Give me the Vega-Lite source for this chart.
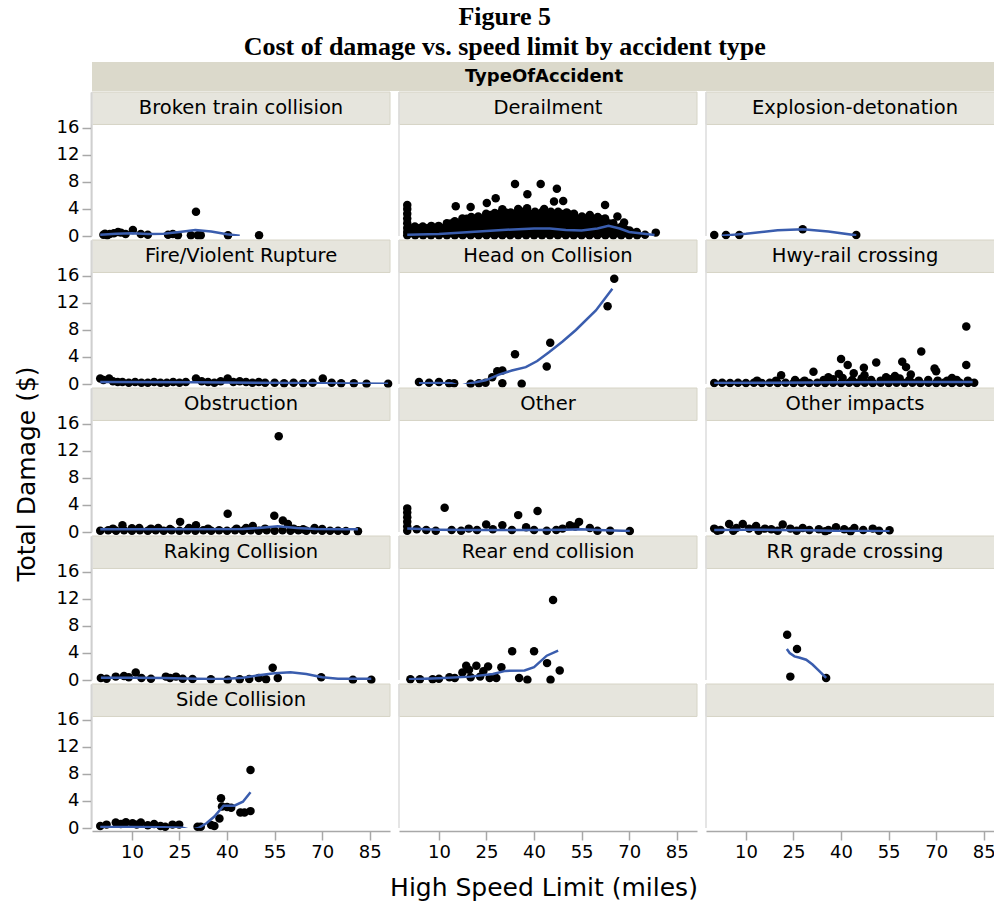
{
  "$schema": "https://vega.github.io/schema/vega-lite/v6.json",
  "padding": {"left": 5, "top": 4, "right": 0, "bottom": 0},
  "background": "white",
  "title": {
    "text": ["Figure 5", "Cost of damage vs. speed limit by accident type"],
    "font": "Liberation Serif",
    "fontSize": 26,
    "fontWeight": "bold",
    "lineHeight": 30,
    "anchor": "middle",
    "offset": 2,
    "color": "#000000"
  },
  "config": {
    "font": "DejaVu Sans",
    "view": {"stroke": null},
    "header": {"labels": false, "title": null, "labelFontSize": 0.1, "labelPadding": 0, "titlePadding": 0, "labelExpr": "''", "labelLineHeight": 0.1},
    "axis": {
      "labelFont": "DejaVu Sans",
      "labelFontSize": 18,
      "labelColor": "#000000",
      "labelOverlap": false,
      "tickColor": "#a8a8a8",
      "domainColor": "#a8a8a8",
      "tickWidth": 1.5,
      "domainWidth": 1.5,
      "tickSize": 9,
      "labelPadding": 3,
      "grid": false
    }
  },
  "datasets": {
    "acc": [
      {"type": "Broken train collision", "series": "point", "speed": 1, "damage": 0.2},
      {"type": "Broken train collision", "series": "point", "speed": 1.5, "damage": 0.35},
      {"type": "Broken train collision", "series": "point", "speed": 2.2, "damage": 0.1},
      {"type": "Broken train collision", "series": "point", "speed": 3, "damage": 0.3},
      {"type": "Broken train collision", "series": "point", "speed": 4.3, "damage": 0.4},
      {"type": "Broken train collision", "series": "point", "speed": 5.6, "damage": 0.6},
      {"type": "Broken train collision", "series": "point", "speed": 6.5, "damage": 0.5},
      {"type": "Broken train collision", "series": "point", "speed": 8, "damage": 0.3},
      {"type": "Broken train collision", "series": "point", "speed": 10.3, "damage": 0.9},
      {"type": "Broken train collision", "series": "point", "speed": 12.8, "damage": 0.3},
      {"type": "Broken train collision", "series": "point", "speed": 15, "damage": 0.2},
      {"type": "Broken train collision", "series": "point", "speed": 21.4, "damage": 0.2},
      {"type": "Broken train collision", "series": "point", "speed": 22.9, "damage": 0.3},
      {"type": "Broken train collision", "series": "point", "speed": 24.5, "damage": 0.1},
      {"type": "Broken train collision", "series": "point", "speed": 28.6, "damage": 0.1},
      {"type": "Broken train collision", "series": "point", "speed": 30.2, "damage": 3.6},
      {"type": "Broken train collision", "series": "point", "speed": 30.8, "damage": 0.1},
      {"type": "Broken train collision", "series": "point", "speed": 31.7, "damage": 0.1},
      {"type": "Broken train collision", "series": "point", "speed": 40.3, "damage": 0.1},
      {"type": "Broken train collision", "series": "point", "speed": 50.1, "damage": 0.1},
      {"type": "Broken train collision", "series": "smooth", "speed": 0, "damage": 0.2},
      {"type": "Broken train collision", "series": "smooth", "speed": 5, "damage": 0.35},
      {"type": "Broken train collision", "series": "smooth", "speed": 10, "damage": 0.4},
      {"type": "Broken train collision", "series": "smooth", "speed": 15, "damage": 0.3},
      {"type": "Broken train collision", "series": "smooth", "speed": 20, "damage": 0.35},
      {"type": "Broken train collision", "series": "smooth", "speed": 25, "damage": 0.6},
      {"type": "Broken train collision", "series": "smooth", "speed": 30, "damage": 0.9},
      {"type": "Broken train collision", "series": "smooth", "speed": 35, "damage": 0.65},
      {"type": "Broken train collision", "series": "smooth", "speed": 40, "damage": 0.25},
      {"type": "Broken train collision", "series": "smooth", "speed": 44, "damage": 0.05},

      {"type": "Derailment", "series": "point", "speed": 34, "damage": 7.7},
      {"type": "Derailment", "series": "point", "speed": 42.1, "damage": 7.7},
      {"type": "Derailment", "series": "point", "speed": 47.2, "damage": 7.0},
      {"type": "Derailment", "series": "point", "speed": 37.9, "damage": 6.2},
      {"type": "Derailment", "series": "point", "speed": 27.9, "damage": 5.6},
      {"type": "Derailment", "series": "point", "speed": 15.3, "damage": 4.4},
      {"type": "Derailment", "series": "point", "speed": 20, "damage": 4.3},
      {"type": "Derailment", "series": "point", "speed": 25.1, "damage": 4.9},
      {"type": "Derailment", "series": "point", "speed": 30, "damage": 3.95},
      {"type": "Derailment", "series": "point", "speed": 35, "damage": 4.0},
      {"type": "Derailment", "series": "point", "speed": 46.3, "damage": 5.1},
      {"type": "Derailment", "series": "point", "speed": 49.2, "damage": 5.2},
      {"type": "Derailment", "series": "point", "speed": 62.4, "damage": 4.6},
      {"type": "Derailment", "series": "point", "speed": 66.3, "damage": 2.9},
      {"type": "Derailment", "series": "point", "speed": 68.4, "damage": 2.0},
      {"type": "Derailment", "series": "point", "speed": 78.4, "damage": 0.5},
      {"type": "Derailment", "series": "point", "speed": 0, "damage": 4.6},
      {"type": "Derailment", "series": "point", "speed": 0, "damage": 4.0},
      {"type": "Derailment", "series": "point", "speed": 0, "damage": 3.3},
      {"type": "Derailment", "series": "point", "speed": 0, "damage": 2.6},
      {"type": "Derailment", "series": "point", "speed": 0, "damage": 1.9},
      {"type": "Derailment", "series": "point", "speed": 0, "damage": 1.2},
      {"type": "Derailment", "series": "point", "speed": 0, "damage": 0.6},
      {"type": "Derailment", "series": "point", "speed": 0, "damage": 0.1},
      {"type": "Derailment", "series": "point", "speed": 1.3, "damage": 0.5},
      {"type": "Derailment", "series": "point", "speed": 1.4, "damage": 1.1},
      {"type": "Derailment", "series": "point", "speed": 2.5, "damage": 0.1},
      {"type": "Derailment", "series": "point", "speed": 2.6, "damage": 0.8},
      {"type": "Derailment", "series": "point", "speed": 2.4, "damage": 1.4},
      {"type": "Derailment", "series": "point", "speed": 5, "damage": 0.1},
      {"type": "Derailment", "series": "point", "speed": 5.1, "damage": 0.8},
      {"type": "Derailment", "series": "point", "speed": 4.9, "damage": 1.4},
      {"type": "Derailment", "series": "point", "speed": 7.5, "damage": 0.1},
      {"type": "Derailment", "series": "point", "speed": 7.4, "damage": 0.8},
      {"type": "Derailment", "series": "point", "speed": 7.6, "damage": 1.5},
      {"type": "Derailment", "series": "point", "speed": 10, "damage": 0.1},
      {"type": "Derailment", "series": "point", "speed": 10.1, "damage": 0.8},
      {"type": "Derailment", "series": "point", "speed": 9.9, "damage": 1.5},
      {"type": "Derailment", "series": "point", "speed": 12.5, "damage": 0.1},
      {"type": "Derailment", "series": "point", "speed": 12.4, "damage": 0.8},
      {"type": "Derailment", "series": "point", "speed": 12.6, "damage": 1.5},
      {"type": "Derailment", "series": "point", "speed": 12.5, "damage": 1.9},
      {"type": "Derailment", "series": "point", "speed": 15, "damage": 0.1},
      {"type": "Derailment", "series": "point", "speed": 15.1, "damage": 0.8},
      {"type": "Derailment", "series": "point", "speed": 14.9, "damage": 1.5},
      {"type": "Derailment", "series": "point", "speed": 15, "damage": 2.2},
      {"type": "Derailment", "series": "point", "speed": 17.5, "damage": 0.1},
      {"type": "Derailment", "series": "point", "speed": 17.4, "damage": 0.8},
      {"type": "Derailment", "series": "point", "speed": 17.6, "damage": 1.5},
      {"type": "Derailment", "series": "point", "speed": 17.5, "damage": 2.2},
      {"type": "Derailment", "series": "point", "speed": 17.4, "damage": 2.6},
      {"type": "Derailment", "series": "point", "speed": 20, "damage": 0.1},
      {"type": "Derailment", "series": "point", "speed": 20.1, "damage": 0.8},
      {"type": "Derailment", "series": "point", "speed": 19.9, "damage": 1.5},
      {"type": "Derailment", "series": "point", "speed": 20, "damage": 2.2},
      {"type": "Derailment", "series": "point", "speed": 20.2, "damage": 2.8},
      {"type": "Derailment", "series": "point", "speed": 22.5, "damage": 0.1},
      {"type": "Derailment", "series": "point", "speed": 22.4, "damage": 0.8},
      {"type": "Derailment", "series": "point", "speed": 22.6, "damage": 1.5},
      {"type": "Derailment", "series": "point", "speed": 22.5, "damage": 2.2},
      {"type": "Derailment", "series": "point", "speed": 22.4, "damage": 2.9},
      {"type": "Derailment", "series": "point", "speed": 25, "damage": 0.1},
      {"type": "Derailment", "series": "point", "speed": 25.1, "damage": 0.8},
      {"type": "Derailment", "series": "point", "speed": 24.9, "damage": 1.5},
      {"type": "Derailment", "series": "point", "speed": 25, "damage": 2.2},
      {"type": "Derailment", "series": "point", "speed": 25.1, "damage": 2.9},
      {"type": "Derailment", "series": "point", "speed": 24.9, "damage": 3.3},
      {"type": "Derailment", "series": "point", "speed": 27.5, "damage": 0.1},
      {"type": "Derailment", "series": "point", "speed": 27.4, "damage": 0.8},
      {"type": "Derailment", "series": "point", "speed": 27.6, "damage": 1.5},
      {"type": "Derailment", "series": "point", "speed": 27.5, "damage": 2.2},
      {"type": "Derailment", "series": "point", "speed": 27.4, "damage": 2.9},
      {"type": "Derailment", "series": "point", "speed": 27.6, "damage": 3.4},
      {"type": "Derailment", "series": "point", "speed": 30, "damage": 0.1},
      {"type": "Derailment", "series": "point", "speed": 30.1, "damage": 0.8},
      {"type": "Derailment", "series": "point", "speed": 29.9, "damage": 1.5},
      {"type": "Derailment", "series": "point", "speed": 30, "damage": 2.2},
      {"type": "Derailment", "series": "point", "speed": 30.1, "damage": 2.9},
      {"type": "Derailment", "series": "point", "speed": 31, "damage": 3.5},
      {"type": "Derailment", "series": "point", "speed": 32.5, "damage": 0.1},
      {"type": "Derailment", "series": "point", "speed": 32.4, "damage": 0.8},
      {"type": "Derailment", "series": "point", "speed": 32.6, "damage": 1.5},
      {"type": "Derailment", "series": "point", "speed": 32.5, "damage": 2.2},
      {"type": "Derailment", "series": "point", "speed": 32.4, "damage": 2.9},
      {"type": "Derailment", "series": "point", "speed": 32.6, "damage": 3.5},
      {"type": "Derailment", "series": "point", "speed": 35, "damage": 0.1},
      {"type": "Derailment", "series": "point", "speed": 35.1, "damage": 0.8},
      {"type": "Derailment", "series": "point", "speed": 34.9, "damage": 1.5},
      {"type": "Derailment", "series": "point", "speed": 35, "damage": 2.2},
      {"type": "Derailment", "series": "point", "speed": 35.1, "damage": 2.9},
      {"type": "Derailment", "series": "point", "speed": 36.2, "damage": 3.6},
      {"type": "Derailment", "series": "point", "speed": 37.5, "damage": 0.1},
      {"type": "Derailment", "series": "point", "speed": 37.4, "damage": 0.8},
      {"type": "Derailment", "series": "point", "speed": 37.6, "damage": 1.5},
      {"type": "Derailment", "series": "point", "speed": 37.5, "damage": 2.2},
      {"type": "Derailment", "series": "point", "speed": 37.4, "damage": 2.9},
      {"type": "Derailment", "series": "point", "speed": 37.6, "damage": 3.6},
      {"type": "Derailment", "series": "point", "speed": 37.8, "damage": 4.1},
      {"type": "Derailment", "series": "point", "speed": 40, "damage": 0.1},
      {"type": "Derailment", "series": "point", "speed": 40.1, "damage": 0.8},
      {"type": "Derailment", "series": "point", "speed": 39.9, "damage": 1.5},
      {"type": "Derailment", "series": "point", "speed": 40, "damage": 2.2},
      {"type": "Derailment", "series": "point", "speed": 40.1, "damage": 2.9},
      {"type": "Derailment", "series": "point", "speed": 40.3, "damage": 3.6},
      {"type": "Derailment", "series": "point", "speed": 42.5, "damage": 0.1},
      {"type": "Derailment", "series": "point", "speed": 42.4, "damage": 0.8},
      {"type": "Derailment", "series": "point", "speed": 42.6, "damage": 1.5},
      {"type": "Derailment", "series": "point", "speed": 42.5, "damage": 2.2},
      {"type": "Derailment", "series": "point", "speed": 42.4, "damage": 2.9},
      {"type": "Derailment", "series": "point", "speed": 42.6, "damage": 3.6},
      {"type": "Derailment", "series": "point", "speed": 43.2, "damage": 4.0},
      {"type": "Derailment", "series": "point", "speed": 45, "damage": 0.1},
      {"type": "Derailment", "series": "point", "speed": 45.1, "damage": 0.8},
      {"type": "Derailment", "series": "point", "speed": 44.9, "damage": 1.5},
      {"type": "Derailment", "series": "point", "speed": 45, "damage": 2.2},
      {"type": "Derailment", "series": "point", "speed": 45.1, "damage": 2.9},
      {"type": "Derailment", "series": "point", "speed": 45.3, "damage": 3.6},
      {"type": "Derailment", "series": "point", "speed": 47.5, "damage": 0.1},
      {"type": "Derailment", "series": "point", "speed": 47.4, "damage": 0.8},
      {"type": "Derailment", "series": "point", "speed": 47.6, "damage": 1.5},
      {"type": "Derailment", "series": "point", "speed": 47.5, "damage": 2.2},
      {"type": "Derailment", "series": "point", "speed": 47.4, "damage": 2.9},
      {"type": "Derailment", "series": "point", "speed": 47.6, "damage": 3.6},
      {"type": "Derailment", "series": "point", "speed": 50, "damage": 0.1},
      {"type": "Derailment", "series": "point", "speed": 50.1, "damage": 0.8},
      {"type": "Derailment", "series": "point", "speed": 49.9, "damage": 1.5},
      {"type": "Derailment", "series": "point", "speed": 50, "damage": 2.2},
      {"type": "Derailment", "series": "point", "speed": 50.1, "damage": 2.9},
      {"type": "Derailment", "series": "point", "speed": 50.3, "damage": 3.5},
      {"type": "Derailment", "series": "point", "speed": 52.5, "damage": 0.1},
      {"type": "Derailment", "series": "point", "speed": 52.4, "damage": 0.8},
      {"type": "Derailment", "series": "point", "speed": 52.6, "damage": 1.5},
      {"type": "Derailment", "series": "point", "speed": 52.5, "damage": 2.2},
      {"type": "Derailment", "series": "point", "speed": 52.4, "damage": 2.9},
      {"type": "Derailment", "series": "point", "speed": 52.6, "damage": 3.3},
      {"type": "Derailment", "series": "point", "speed": 55, "damage": 0.1},
      {"type": "Derailment", "series": "point", "speed": 55.1, "damage": 0.8},
      {"type": "Derailment", "series": "point", "speed": 54.9, "damage": 1.5},
      {"type": "Derailment", "series": "point", "speed": 55, "damage": 2.2},
      {"type": "Derailment", "series": "point", "speed": 55.1, "damage": 2.9},
      {"type": "Derailment", "series": "point", "speed": 57.5, "damage": 0.1},
      {"type": "Derailment", "series": "point", "speed": 57.4, "damage": 0.8},
      {"type": "Derailment", "series": "point", "speed": 57.6, "damage": 1.5},
      {"type": "Derailment", "series": "point", "speed": 57.5, "damage": 2.2},
      {"type": "Derailment", "series": "point", "speed": 57.4, "damage": 2.9},
      {"type": "Derailment", "series": "point", "speed": 57.6, "damage": 3.1},
      {"type": "Derailment", "series": "point", "speed": 60, "damage": 0.1},
      {"type": "Derailment", "series": "point", "speed": 60.1, "damage": 0.8},
      {"type": "Derailment", "series": "point", "speed": 59.9, "damage": 1.5},
      {"type": "Derailment", "series": "point", "speed": 60, "damage": 2.2},
      {"type": "Derailment", "series": "point", "speed": 60.1, "damage": 2.8},
      {"type": "Derailment", "series": "point", "speed": 62.5, "damage": 0.1},
      {"type": "Derailment", "series": "point", "speed": 62.4, "damage": 0.8},
      {"type": "Derailment", "series": "point", "speed": 62.6, "damage": 1.5},
      {"type": "Derailment", "series": "point", "speed": 62.5, "damage": 2.2},
      {"type": "Derailment", "series": "point", "speed": 62.4, "damage": 2.6},
      {"type": "Derailment", "series": "point", "speed": 65, "damage": 0.1},
      {"type": "Derailment", "series": "point", "speed": 65.1, "damage": 0.8},
      {"type": "Derailment", "series": "point", "speed": 64.9, "damage": 1.5},
      {"type": "Derailment", "series": "point", "speed": 65, "damage": 1.9},
      {"type": "Derailment", "series": "point", "speed": 67.5, "damage": 0.1},
      {"type": "Derailment", "series": "point", "speed": 67.4, "damage": 0.8},
      {"type": "Derailment", "series": "point", "speed": 67.6, "damage": 1.4},
      {"type": "Derailment", "series": "point", "speed": 70, "damage": 0.1},
      {"type": "Derailment", "series": "point", "speed": 70.1, "damage": 0.8},
      {"type": "Derailment", "series": "point", "speed": 72.5, "damage": 0.1},
      {"type": "Derailment", "series": "point", "speed": 72.4, "damage": 0.6},
      {"type": "Derailment", "series": "point", "speed": 75, "damage": 0.2},
      {"type": "Derailment", "series": "point", "speed": 1.25, "damage": 0.45},
      {"type": "Derailment", "series": "point", "speed": 3.75, "damage": 0.45},
      {"type": "Derailment", "series": "point", "speed": 3.75, "damage": 1.15},
      {"type": "Derailment", "series": "point", "speed": 6.25, "damage": 0.45},
      {"type": "Derailment", "series": "point", "speed": 6.25, "damage": 1.15},
      {"type": "Derailment", "series": "point", "speed": 8.75, "damage": 0.45},
      {"type": "Derailment", "series": "point", "speed": 8.75, "damage": 1.15},
      {"type": "Derailment", "series": "point", "speed": 11.25, "damage": 0.45},
      {"type": "Derailment", "series": "point", "speed": 11.25, "damage": 1.15},
      {"type": "Derailment", "series": "point", "speed": 13.75, "damage": 0.45},
      {"type": "Derailment", "series": "point", "speed": 13.75, "damage": 1.15},
      {"type": "Derailment", "series": "point", "speed": 13.75, "damage": 1.85},
      {"type": "Derailment", "series": "point", "speed": 16.25, "damage": 0.45},
      {"type": "Derailment", "series": "point", "speed": 16.25, "damage": 1.15},
      {"type": "Derailment", "series": "point", "speed": 16.25, "damage": 1.85},
      {"type": "Derailment", "series": "point", "speed": 18.75, "damage": 0.45},
      {"type": "Derailment", "series": "point", "speed": 18.75, "damage": 1.15},
      {"type": "Derailment", "series": "point", "speed": 18.75, "damage": 1.85},
      {"type": "Derailment", "series": "point", "speed": 18.75, "damage": 2.55},
      {"type": "Derailment", "series": "point", "speed": 21.25, "damage": 0.45},
      {"type": "Derailment", "series": "point", "speed": 21.25, "damage": 1.15},
      {"type": "Derailment", "series": "point", "speed": 21.25, "damage": 1.85},
      {"type": "Derailment", "series": "point", "speed": 21.25, "damage": 2.55},
      {"type": "Derailment", "series": "point", "speed": 23.75, "damage": 0.45},
      {"type": "Derailment", "series": "point", "speed": 23.75, "damage": 1.15},
      {"type": "Derailment", "series": "point", "speed": 23.75, "damage": 1.85},
      {"type": "Derailment", "series": "point", "speed": 23.75, "damage": 2.55},
      {"type": "Derailment", "series": "point", "speed": 26.25, "damage": 0.45},
      {"type": "Derailment", "series": "point", "speed": 26.25, "damage": 1.15},
      {"type": "Derailment", "series": "point", "speed": 26.25, "damage": 1.85},
      {"type": "Derailment", "series": "point", "speed": 26.25, "damage": 2.55},
      {"type": "Derailment", "series": "point", "speed": 26.25, "damage": 3.1},
      {"type": "Derailment", "series": "point", "speed": 28.75, "damage": 0.45},
      {"type": "Derailment", "series": "point", "speed": 28.75, "damage": 1.15},
      {"type": "Derailment", "series": "point", "speed": 28.75, "damage": 1.85},
      {"type": "Derailment", "series": "point", "speed": 28.75, "damage": 2.55},
      {"type": "Derailment", "series": "point", "speed": 28.75, "damage": 3.25},
      {"type": "Derailment", "series": "point", "speed": 31.25, "damage": 0.45},
      {"type": "Derailment", "series": "point", "speed": 31.25, "damage": 1.15},
      {"type": "Derailment", "series": "point", "speed": 31.25, "damage": 1.85},
      {"type": "Derailment", "series": "point", "speed": 31.25, "damage": 2.55},
      {"type": "Derailment", "series": "point", "speed": 31.25, "damage": 3.25},
      {"type": "Derailment", "series": "point", "speed": 33.75, "damage": 0.45},
      {"type": "Derailment", "series": "point", "speed": 33.75, "damage": 1.15},
      {"type": "Derailment", "series": "point", "speed": 33.75, "damage": 1.85},
      {"type": "Derailment", "series": "point", "speed": 33.75, "damage": 2.55},
      {"type": "Derailment", "series": "point", "speed": 33.75, "damage": 3.25},
      {"type": "Derailment", "series": "point", "speed": 36.25, "damage": 0.45},
      {"type": "Derailment", "series": "point", "speed": 36.25, "damage": 1.15},
      {"type": "Derailment", "series": "point", "speed": 36.25, "damage": 1.85},
      {"type": "Derailment", "series": "point", "speed": 36.25, "damage": 2.55},
      {"type": "Derailment", "series": "point", "speed": 36.25, "damage": 3.25},
      {"type": "Derailment", "series": "point", "speed": 38.75, "damage": 0.45},
      {"type": "Derailment", "series": "point", "speed": 38.75, "damage": 1.15},
      {"type": "Derailment", "series": "point", "speed": 38.75, "damage": 1.85},
      {"type": "Derailment", "series": "point", "speed": 38.75, "damage": 2.55},
      {"type": "Derailment", "series": "point", "speed": 38.75, "damage": 3.25},
      {"type": "Derailment", "series": "point", "speed": 41.25, "damage": 0.45},
      {"type": "Derailment", "series": "point", "speed": 41.25, "damage": 1.15},
      {"type": "Derailment", "series": "point", "speed": 41.25, "damage": 1.85},
      {"type": "Derailment", "series": "point", "speed": 41.25, "damage": 2.55},
      {"type": "Derailment", "series": "point", "speed": 41.25, "damage": 3.25},
      {"type": "Derailment", "series": "point", "speed": 43.75, "damage": 0.45},
      {"type": "Derailment", "series": "point", "speed": 43.75, "damage": 1.15},
      {"type": "Derailment", "series": "point", "speed": 43.75, "damage": 1.85},
      {"type": "Derailment", "series": "point", "speed": 43.75, "damage": 2.55},
      {"type": "Derailment", "series": "point", "speed": 43.75, "damage": 3.25},
      {"type": "Derailment", "series": "point", "speed": 46.25, "damage": 0.45},
      {"type": "Derailment", "series": "point", "speed": 46.25, "damage": 1.15},
      {"type": "Derailment", "series": "point", "speed": 46.25, "damage": 1.85},
      {"type": "Derailment", "series": "point", "speed": 46.25, "damage": 2.55},
      {"type": "Derailment", "series": "point", "speed": 46.25, "damage": 3.25},
      {"type": "Derailment", "series": "point", "speed": 48.75, "damage": 0.45},
      {"type": "Derailment", "series": "point", "speed": 48.75, "damage": 1.15},
      {"type": "Derailment", "series": "point", "speed": 48.75, "damage": 1.85},
      {"type": "Derailment", "series": "point", "speed": 48.75, "damage": 2.55},
      {"type": "Derailment", "series": "point", "speed": 48.75, "damage": 3.25},
      {"type": "Derailment", "series": "point", "speed": 51.25, "damage": 0.45},
      {"type": "Derailment", "series": "point", "speed": 51.25, "damage": 1.15},
      {"type": "Derailment", "series": "point", "speed": 51.25, "damage": 1.85},
      {"type": "Derailment", "series": "point", "speed": 51.25, "damage": 2.55},
      {"type": "Derailment", "series": "point", "speed": 51.25, "damage": 3.2},
      {"type": "Derailment", "series": "point", "speed": 53.75, "damage": 0.45},
      {"type": "Derailment", "series": "point", "speed": 53.75, "damage": 1.15},
      {"type": "Derailment", "series": "point", "speed": 53.75, "damage": 1.85},
      {"type": "Derailment", "series": "point", "speed": 53.75, "damage": 2.55},
      {"type": "Derailment", "series": "point", "speed": 56.25, "damage": 0.45},
      {"type": "Derailment", "series": "point", "speed": 56.25, "damage": 1.15},
      {"type": "Derailment", "series": "point", "speed": 56.25, "damage": 1.85},
      {"type": "Derailment", "series": "point", "speed": 56.25, "damage": 2.55},
      {"type": "Derailment", "series": "point", "speed": 58.75, "damage": 0.45},
      {"type": "Derailment", "series": "point", "speed": 58.75, "damage": 1.15},
      {"type": "Derailment", "series": "point", "speed": 58.75, "damage": 1.85},
      {"type": "Derailment", "series": "point", "speed": 58.75, "damage": 2.55},
      {"type": "Derailment", "series": "point", "speed": 61.25, "damage": 0.45},
      {"type": "Derailment", "series": "point", "speed": 61.25, "damage": 1.15},
      {"type": "Derailment", "series": "point", "speed": 61.25, "damage": 1.85},
      {"type": "Derailment", "series": "point", "speed": 61.25, "damage": 2.45},
      {"type": "Derailment", "series": "point", "speed": 63.75, "damage": 0.45},
      {"type": "Derailment", "series": "point", "speed": 63.75, "damage": 1.15},
      {"type": "Derailment", "series": "point", "speed": 63.75, "damage": 1.85},
      {"type": "Derailment", "series": "point", "speed": 66.25, "damage": 0.45},
      {"type": "Derailment", "series": "point", "speed": 66.25, "damage": 1.15},
      {"type": "Derailment", "series": "point", "speed": 68.75, "damage": 0.45},
      {"type": "Derailment", "series": "point", "speed": 68.75, "damage": 1.0},
      {"type": "Derailment", "series": "point", "speed": 71.25, "damage": 0.45},
      {"type": "Derailment", "series": "smooth", "speed": 0, "damage": 0.2},
      {"type": "Derailment", "series": "smooth", "speed": 10, "damage": 0.3},
      {"type": "Derailment", "series": "smooth", "speed": 20, "damage": 0.6},
      {"type": "Derailment", "series": "smooth", "speed": 30, "damage": 0.9},
      {"type": "Derailment", "series": "smooth", "speed": 40, "damage": 1.1},
      {"type": "Derailment", "series": "smooth", "speed": 45, "damage": 1.1},
      {"type": "Derailment", "series": "smooth", "speed": 50, "damage": 0.9},
      {"type": "Derailment", "series": "smooth", "speed": 55, "damage": 0.8},
      {"type": "Derailment", "series": "smooth", "speed": 60, "damage": 1.1},
      {"type": "Derailment", "series": "smooth", "speed": 63.5, "damage": 1.5},
      {"type": "Derailment", "series": "smooth", "speed": 67, "damage": 1.1},
      {"type": "Derailment", "series": "smooth", "speed": 70, "damage": 0.6},
      {"type": "Derailment", "series": "smooth", "speed": 78, "damage": 0.15},

      {"type": "Explosion-detonation", "series": "point", "speed": 0, "damage": 0.15},
      {"type": "Explosion-detonation", "series": "point", "speed": 3.7, "damage": 0.15},
      {"type": "Explosion-detonation", "series": "point", "speed": 7.9, "damage": 0.15},
      {"type": "Explosion-detonation", "series": "point", "speed": 27.9, "damage": 1.0},
      {"type": "Explosion-detonation", "series": "point", "speed": 44.8, "damage": 0.15},
      {"type": "Explosion-detonation", "series": "smooth", "speed": 2.4, "damage": 0.05},
      {"type": "Explosion-detonation", "series": "smooth", "speed": 10, "damage": 0.35},
      {"type": "Explosion-detonation", "series": "smooth", "speed": 20, "damage": 0.85},
      {"type": "Explosion-detonation", "series": "smooth", "speed": 28, "damage": 1.0},
      {"type": "Explosion-detonation", "series": "smooth", "speed": 36, "damage": 0.65},
      {"type": "Explosion-detonation", "series": "smooth", "speed": 44.8, "damage": 0.1},

      {"type": "Fire/Violent Rupture", "series": "point", "speed": 0, "damage": 0.8},
      {"type": "Fire/Violent Rupture", "series": "point", "speed": 1, "damage": 0.6},
      {"type": "Fire/Violent Rupture", "series": "point", "speed": 2.8, "damage": 0.8},
      {"type": "Fire/Violent Rupture", "series": "point", "speed": 4, "damage": 0.4},
      {"type": "Fire/Violent Rupture", "series": "point", "speed": 5.5, "damage": 0.3},
      {"type": "Fire/Violent Rupture", "series": "point", "speed": 7, "damage": 0.3},
      {"type": "Fire/Violent Rupture", "series": "point", "speed": 9, "damage": 0.2},
      {"type": "Fire/Violent Rupture", "series": "point", "speed": 11, "damage": 0.3},
      {"type": "Fire/Violent Rupture", "series": "point", "speed": 13, "damage": 0.2},
      {"type": "Fire/Violent Rupture", "series": "point", "speed": 15, "damage": 0.2},
      {"type": "Fire/Violent Rupture", "series": "point", "speed": 17, "damage": 0.3},
      {"type": "Fire/Violent Rupture", "series": "point", "speed": 19, "damage": 0.2},
      {"type": "Fire/Violent Rupture", "series": "point", "speed": 21, "damage": 0.2},
      {"type": "Fire/Violent Rupture", "series": "point", "speed": 23, "damage": 0.3},
      {"type": "Fire/Violent Rupture", "series": "point", "speed": 25, "damage": 0.2},
      {"type": "Fire/Violent Rupture", "series": "point", "speed": 27, "damage": 0.3},
      {"type": "Fire/Violent Rupture", "series": "point", "speed": 30.2, "damage": 0.8},
      {"type": "Fire/Violent Rupture", "series": "point", "speed": 32, "damage": 0.4},
      {"type": "Fire/Violent Rupture", "series": "point", "speed": 34, "damage": 0.3},
      {"type": "Fire/Violent Rupture", "series": "point", "speed": 36, "damage": 0.2},
      {"type": "Fire/Violent Rupture", "series": "point", "speed": 38, "damage": 0.4},
      {"type": "Fire/Violent Rupture", "series": "point", "speed": 40.2, "damage": 0.8},
      {"type": "Fire/Violent Rupture", "series": "point", "speed": 42, "damage": 0.3},
      {"type": "Fire/Violent Rupture", "series": "point", "speed": 44, "damage": 0.4},
      {"type": "Fire/Violent Rupture", "series": "point", "speed": 46, "damage": 0.3},
      {"type": "Fire/Violent Rupture", "series": "point", "speed": 48, "damage": 0.2},
      {"type": "Fire/Violent Rupture", "series": "point", "speed": 50, "damage": 0.3},
      {"type": "Fire/Violent Rupture", "series": "point", "speed": 52, "damage": 0.2},
      {"type": "Fire/Violent Rupture", "series": "point", "speed": 55, "damage": 0.2},
      {"type": "Fire/Violent Rupture", "series": "point", "speed": 58, "damage": 0.1},
      {"type": "Fire/Violent Rupture", "series": "point", "speed": 61, "damage": 0.2},
      {"type": "Fire/Violent Rupture", "series": "point", "speed": 64, "damage": 0.1},
      {"type": "Fire/Violent Rupture", "series": "point", "speed": 67, "damage": 0.2},
      {"type": "Fire/Violent Rupture", "series": "point", "speed": 70.2, "damage": 0.8},
      {"type": "Fire/Violent Rupture", "series": "point", "speed": 73, "damage": 0.2},
      {"type": "Fire/Violent Rupture", "series": "point", "speed": 76, "damage": 0.1},
      {"type": "Fire/Violent Rupture", "series": "point", "speed": 80, "damage": 0.1},
      {"type": "Fire/Violent Rupture", "series": "point", "speed": 84, "damage": 0.05},
      {"type": "Fire/Violent Rupture", "series": "point", "speed": 90.8, "damage": 0.05},
      {"type": "Fire/Violent Rupture", "series": "smooth", "speed": 0, "damage": 0.3},
      {"type": "Fire/Violent Rupture", "series": "smooth", "speed": 30, "damage": 0.25},
      {"type": "Fire/Violent Rupture", "series": "smooth", "speed": 60, "damage": 0.15},
      {"type": "Fire/Violent Rupture", "series": "smooth", "speed": 90.8, "damage": 0.05},

      {"type": "Head on Collision", "series": "point", "speed": 3.7, "damage": 0.3},
      {"type": "Head on Collision", "series": "point", "speed": 6.9, "damage": 0.2},
      {"type": "Head on Collision", "series": "point", "speed": 10, "damage": 0.3},
      {"type": "Head on Collision", "series": "point", "speed": 13.2, "damage": 0.1},
      {"type": "Head on Collision", "series": "point", "speed": 14.8, "damage": 0.1},
      {"type": "Head on Collision", "series": "point", "speed": 20, "damage": 0.05},
      {"type": "Head on Collision", "series": "point", "speed": 22.6, "damage": 0.1},
      {"type": "Head on Collision", "series": "point", "speed": 24.7, "damage": 0.2},
      {"type": "Head on Collision", "series": "point", "speed": 26.8, "damage": 1.0},
      {"type": "Head on Collision", "series": "point", "speed": 28.4, "damage": 1.9},
      {"type": "Head on Collision", "series": "point", "speed": 30, "damage": 2.0},
      {"type": "Head on Collision", "series": "point", "speed": 30, "damage": 0.1},
      {"type": "Head on Collision", "series": "point", "speed": 34, "damage": 4.4},
      {"type": "Head on Collision", "series": "point", "speed": 36.1, "damage": 0.05},
      {"type": "Head on Collision", "series": "point", "speed": 44, "damage": 2.6},
      {"type": "Head on Collision", "series": "point", "speed": 45.1, "damage": 6.1},
      {"type": "Head on Collision", "series": "point", "speed": 63.2, "damage": 11.5},
      {"type": "Head on Collision", "series": "point", "speed": 65.3, "damage": 15.6},
      {"type": "Head on Collision", "series": "smooth", "speed": 3.7, "damage": 0.1},
      {"type": "Head on Collision", "series": "smooth", "speed": 9, "damage": 0.15},
      {"type": "Head on Collision", "series": "smooth", "speed": 14, "damage": 0.1},
      {"type": "Head on Collision", "series": "smooth", "speed": 16.5, "damage": -0.3},
      {"type": "Head on Collision", "series": "smooth", "speed": 18.9, "damage": 0},
      {"type": "Head on Collision", "series": "smooth", "speed": 24.7, "damage": 0.55},
      {"type": "Head on Collision", "series": "smooth", "speed": 28.9, "damage": 1.4},
      {"type": "Head on Collision", "series": "smooth", "speed": 33, "damage": 2.0},
      {"type": "Head on Collision", "series": "smooth", "speed": 37.4, "damage": 2.5},
      {"type": "Head on Collision", "series": "smooth", "speed": 41, "damage": 3.4},
      {"type": "Head on Collision", "series": "smooth", "speed": 44.7, "damage": 4.7},
      {"type": "Head on Collision", "series": "smooth", "speed": 49, "damage": 6.3},
      {"type": "Head on Collision", "series": "smooth", "speed": 53.2, "damage": 8.0},
      {"type": "Head on Collision", "series": "smooth", "speed": 59.5, "damage": 10.9},
      {"type": "Head on Collision", "series": "smooth", "speed": 64.7, "damage": 14.1},

      {"type": "Hwy-rail crossing", "series": "point", "speed": 79.5, "damage": 8.5},
      {"type": "Hwy-rail crossing", "series": "point", "speed": 79.5, "damage": 2.8},
      {"type": "Hwy-rail crossing", "series": "point", "speed": 65.3, "damage": 4.8},
      {"type": "Hwy-rail crossing", "series": "point", "speed": 59.3, "damage": 3.3},
      {"type": "Hwy-rail crossing", "series": "point", "speed": 60.5, "damage": 2.5},
      {"type": "Hwy-rail crossing", "series": "point", "speed": 51.1, "damage": 3.2},
      {"type": "Hwy-rail crossing", "series": "point", "speed": 47.2, "damage": 2.4},
      {"type": "Hwy-rail crossing", "series": "point", "speed": 40, "damage": 3.7},
      {"type": "Hwy-rail crossing", "series": "point", "speed": 42.1, "damage": 2.8},
      {"type": "Hwy-rail crossing", "series": "point", "speed": 39.3, "damage": 1.5},
      {"type": "Hwy-rail crossing", "series": "point", "speed": 31.3, "damage": 1.8},
      {"type": "Hwy-rail crossing", "series": "point", "speed": 21.1, "damage": 1.3},
      {"type": "Hwy-rail crossing", "series": "point", "speed": 69.5, "damage": 2.3},
      {"type": "Hwy-rail crossing", "series": "point", "speed": 70, "damage": 1.9},
      {"type": "Hwy-rail crossing", "series": "point", "speed": 54.2, "damage": 1.0},
      {"type": "Hwy-rail crossing", "series": "point", "speed": 47.4, "damage": 1.3},
      {"type": "Hwy-rail crossing", "series": "point", "speed": 57, "damage": 1.2},
      {"type": "Hwy-rail crossing", "series": "point", "speed": 36, "damage": 1.0},
      {"type": "Hwy-rail crossing", "series": "point", "speed": 44, "damage": 1.6},
      {"type": "Hwy-rail crossing", "series": "point", "speed": 62, "damage": 1.4},
      {"type": "Hwy-rail crossing", "series": "point", "speed": 75, "damage": 0.9},
      {"type": "Hwy-rail crossing", "series": "point", "speed": 0, "damage": 0.15},
      {"type": "Hwy-rail crossing", "series": "point", "speed": 2.5, "damage": 0.2},
      {"type": "Hwy-rail crossing", "series": "point", "speed": 5, "damage": 0.15},
      {"type": "Hwy-rail crossing", "series": "point", "speed": 7.5, "damage": 0.2},
      {"type": "Hwy-rail crossing", "series": "point", "speed": 10, "damage": 0.15},
      {"type": "Hwy-rail crossing", "series": "point", "speed": 12.5, "damage": 0.2},
      {"type": "Hwy-rail crossing", "series": "point", "speed": 15, "damage": 0.15},
      {"type": "Hwy-rail crossing", "series": "point", "speed": 17.5, "damage": 0.2},
      {"type": "Hwy-rail crossing", "series": "point", "speed": 20, "damage": 0.15},
      {"type": "Hwy-rail crossing", "series": "point", "speed": 22.5, "damage": 0.2},
      {"type": "Hwy-rail crossing", "series": "point", "speed": 25, "damage": 0.15},
      {"type": "Hwy-rail crossing", "series": "point", "speed": 27.5, "damage": 0.2},
      {"type": "Hwy-rail crossing", "series": "point", "speed": 30, "damage": 0.15},
      {"type": "Hwy-rail crossing", "series": "point", "speed": 32.5, "damage": 0.2},
      {"type": "Hwy-rail crossing", "series": "point", "speed": 35, "damage": 0.15},
      {"type": "Hwy-rail crossing", "series": "point", "speed": 37.5, "damage": 0.2},
      {"type": "Hwy-rail crossing", "series": "point", "speed": 40, "damage": 0.15},
      {"type": "Hwy-rail crossing", "series": "point", "speed": 42.5, "damage": 0.2},
      {"type": "Hwy-rail crossing", "series": "point", "speed": 45, "damage": 0.15},
      {"type": "Hwy-rail crossing", "series": "point", "speed": 47.5, "damage": 0.2},
      {"type": "Hwy-rail crossing", "series": "point", "speed": 50, "damage": 0.15},
      {"type": "Hwy-rail crossing", "series": "point", "speed": 52.5, "damage": 0.2},
      {"type": "Hwy-rail crossing", "series": "point", "speed": 55, "damage": 0.15},
      {"type": "Hwy-rail crossing", "series": "point", "speed": 57.5, "damage": 0.2},
      {"type": "Hwy-rail crossing", "series": "point", "speed": 60, "damage": 0.15},
      {"type": "Hwy-rail crossing", "series": "point", "speed": 62.5, "damage": 0.2},
      {"type": "Hwy-rail crossing", "series": "point", "speed": 65, "damage": 0.15},
      {"type": "Hwy-rail crossing", "series": "point", "speed": 67.5, "damage": 0.2},
      {"type": "Hwy-rail crossing", "series": "point", "speed": 70, "damage": 0.15},
      {"type": "Hwy-rail crossing", "series": "point", "speed": 72.5, "damage": 0.2},
      {"type": "Hwy-rail crossing", "series": "point", "speed": 75, "damage": 0.15},
      {"type": "Hwy-rail crossing", "series": "point", "speed": 77.5, "damage": 0.2},
      {"type": "Hwy-rail crossing", "series": "point", "speed": 80, "damage": 0.15},
      {"type": "Hwy-rail crossing", "series": "point", "speed": 82, "damage": 0.2},
      {"type": "Hwy-rail crossing", "series": "point", "speed": 13.5, "damage": 0.5},
      {"type": "Hwy-rail crossing", "series": "point", "speed": 19.5, "damage": 0.5},
      {"type": "Hwy-rail crossing", "series": "point", "speed": 25.5, "damage": 0.6},
      {"type": "Hwy-rail crossing", "series": "point", "speed": 28.5, "damage": 0.5},
      {"type": "Hwy-rail crossing", "series": "point", "speed": 34.5, "damage": 0.6},
      {"type": "Hwy-rail crossing", "series": "point", "speed": 37.5, "damage": 0.7},
      {"type": "Hwy-rail crossing", "series": "point", "speed": 40.5, "damage": 0.9},
      {"type": "Hwy-rail crossing", "series": "point", "speed": 43.5, "damage": 0.6},
      {"type": "Hwy-rail crossing", "series": "point", "speed": 46.5, "damage": 0.8},
      {"type": "Hwy-rail crossing", "series": "point", "speed": 49.5, "damage": 0.6},
      {"type": "Hwy-rail crossing", "series": "point", "speed": 52.5, "damage": 0.5},
      {"type": "Hwy-rail crossing", "series": "point", "speed": 55.5, "damage": 0.7},
      {"type": "Hwy-rail crossing", "series": "point", "speed": 58.5, "damage": 0.8},
      {"type": "Hwy-rail crossing", "series": "point", "speed": 61.5, "damage": 0.6},
      {"type": "Hwy-rail crossing", "series": "point", "speed": 64.5, "damage": 0.5},
      {"type": "Hwy-rail crossing", "series": "point", "speed": 67.5, "damage": 0.6},
      {"type": "Hwy-rail crossing", "series": "point", "speed": 70.5, "damage": 0.5},
      {"type": "Hwy-rail crossing", "series": "point", "speed": 73.5, "damage": 0.5},
      {"type": "Hwy-rail crossing", "series": "point", "speed": 76.5, "damage": 0.6},
      {"type": "Hwy-rail crossing", "series": "point", "speed": 80, "damage": 0.5},
      {"type": "Hwy-rail crossing", "series": "smooth", "speed": 0, "damage": 0.15},
      {"type": "Hwy-rail crossing", "series": "smooth", "speed": 20, "damage": 0.2},
      {"type": "Hwy-rail crossing", "series": "smooth", "speed": 40, "damage": 0.25},
      {"type": "Hwy-rail crossing", "series": "smooth", "speed": 60, "damage": 0.3},
      {"type": "Hwy-rail crossing", "series": "smooth", "speed": 81.5, "damage": 0.3},

      {"type": "Obstruction", "series": "point", "speed": 56.3, "damage": 14.2},
      {"type": "Obstruction", "series": "point", "speed": 40.2, "damage": 2.7},
      {"type": "Obstruction", "series": "point", "speed": 25.2, "damage": 1.5},
      {"type": "Obstruction", "series": "point", "speed": 54.9, "damage": 2.4},
      {"type": "Obstruction", "series": "point", "speed": 57.6, "damage": 1.7},
      {"type": "Obstruction", "series": "point", "speed": 59.2, "damage": 1.2},
      {"type": "Obstruction", "series": "point", "speed": 7, "damage": 1.0},
      {"type": "Obstruction", "series": "point", "speed": 12.3, "damage": 0.6},
      {"type": "Obstruction", "series": "point", "speed": 30.2, "damage": 1.0},
      {"type": "Obstruction", "series": "point", "speed": 48.1, "damage": 0.9},
      {"type": "Obstruction", "series": "point", "speed": 18.3, "damage": 0.6},
      {"type": "Obstruction", "series": "point", "speed": 67.6, "damage": 0.6},
      {"type": "Obstruction", "series": "point", "speed": 81.3, "damage": 0.1},
      {"type": "Obstruction", "series": "point", "speed": 0, "damage": 0.2},
      {"type": "Obstruction", "series": "point", "speed": 2.5, "damage": 0.25},
      {"type": "Obstruction", "series": "point", "speed": 5, "damage": 0.2},
      {"type": "Obstruction", "series": "point", "speed": 7.5, "damage": 0.25},
      {"type": "Obstruction", "series": "point", "speed": 10, "damage": 0.2},
      {"type": "Obstruction", "series": "point", "speed": 12.5, "damage": 0.25},
      {"type": "Obstruction", "series": "point", "speed": 15, "damage": 0.2},
      {"type": "Obstruction", "series": "point", "speed": 17.5, "damage": 0.25},
      {"type": "Obstruction", "series": "point", "speed": 20, "damage": 0.2},
      {"type": "Obstruction", "series": "point", "speed": 22.5, "damage": 0.25},
      {"type": "Obstruction", "series": "point", "speed": 25, "damage": 0.2},
      {"type": "Obstruction", "series": "point", "speed": 27.5, "damage": 0.25},
      {"type": "Obstruction", "series": "point", "speed": 30, "damage": 0.2},
      {"type": "Obstruction", "series": "point", "speed": 32.5, "damage": 0.25},
      {"type": "Obstruction", "series": "point", "speed": 35, "damage": 0.2},
      {"type": "Obstruction", "series": "point", "speed": 37.5, "damage": 0.25},
      {"type": "Obstruction", "series": "point", "speed": 40, "damage": 0.2},
      {"type": "Obstruction", "series": "point", "speed": 42.5, "damage": 0.25},
      {"type": "Obstruction", "series": "point", "speed": 45, "damage": 0.2},
      {"type": "Obstruction", "series": "point", "speed": 47.5, "damage": 0.25},
      {"type": "Obstruction", "series": "point", "speed": 50, "damage": 0.2},
      {"type": "Obstruction", "series": "point", "speed": 52.5, "damage": 0.25},
      {"type": "Obstruction", "series": "point", "speed": 55, "damage": 0.2},
      {"type": "Obstruction", "series": "point", "speed": 57.5, "damage": 0.25},
      {"type": "Obstruction", "series": "point", "speed": 60, "damage": 0.2},
      {"type": "Obstruction", "series": "point", "speed": 62.5, "damage": 0.25},
      {"type": "Obstruction", "series": "point", "speed": 65, "damage": 0.2},
      {"type": "Obstruction", "series": "point", "speed": 67.5, "damage": 0.25},
      {"type": "Obstruction", "series": "point", "speed": 70, "damage": 0.2},
      {"type": "Obstruction", "series": "point", "speed": 72.5, "damage": 0.2},
      {"type": "Obstruction", "series": "point", "speed": 75, "damage": 0.2},
      {"type": "Obstruction", "series": "point", "speed": 77.5, "damage": 0.15},
      {"type": "Obstruction", "series": "point", "speed": 4, "damage": 0.5},
      {"type": "Obstruction", "series": "point", "speed": 10, "damage": 0.55},
      {"type": "Obstruction", "series": "point", "speed": 16, "damage": 0.5},
      {"type": "Obstruction", "series": "point", "speed": 22, "damage": 0.45},
      {"type": "Obstruction", "series": "point", "speed": 28, "damage": 0.6},
      {"type": "Obstruction", "series": "point", "speed": 34, "damage": 0.5},
      {"type": "Obstruction", "series": "point", "speed": 43, "damage": 0.5},
      {"type": "Obstruction", "series": "point", "speed": 46, "damage": 0.6},
      {"type": "Obstruction", "series": "point", "speed": 52, "damage": 0.5},
      {"type": "Obstruction", "series": "point", "speed": 61, "damage": 0.5},
      {"type": "Obstruction", "series": "point", "speed": 64, "damage": 0.4},
      {"type": "Obstruction", "series": "point", "speed": 70, "damage": 0.45},
      {"type": "Obstruction", "series": "smooth", "speed": 0, "damage": 0.4},
      {"type": "Obstruction", "series": "smooth", "speed": 45, "damage": 0.45},
      {"type": "Obstruction", "series": "smooth", "speed": 50, "damage": 0.6},
      {"type": "Obstruction", "series": "smooth", "speed": 56, "damage": 0.85},
      {"type": "Obstruction", "series": "smooth", "speed": 62, "damage": 0.6},
      {"type": "Obstruction", "series": "smooth", "speed": 68, "damage": 0.45},
      {"type": "Obstruction", "series": "smooth", "speed": 81.3, "damage": 0.4},

      {"type": "Other", "series": "point", "speed": 0, "damage": 3.5},
      {"type": "Other", "series": "point", "speed": 0, "damage": 2.9},
      {"type": "Other", "series": "point", "speed": 0, "damage": 2.2},
      {"type": "Other", "series": "point", "speed": 0, "damage": 1.5},
      {"type": "Other", "series": "point", "speed": 0, "damage": 0.8},
      {"type": "Other", "series": "point", "speed": 0, "damage": 0.2},
      {"type": "Other", "series": "point", "speed": 11.8, "damage": 3.6},
      {"type": "Other", "series": "point", "speed": 35, "damage": 2.5},
      {"type": "Other", "series": "point", "speed": 41.1, "damage": 3.1},
      {"type": "Other", "series": "point", "speed": 54.2, "damage": 1.5},
      {"type": "Other", "series": "point", "speed": 70.2, "damage": 0.15},
      {"type": "Other", "series": "point", "speed": 30, "damage": 1.0},
      {"type": "Other", "series": "point", "speed": 51.3, "damage": 1.0},
      {"type": "Other", "series": "point", "speed": 24.9, "damage": 1.1},
      {"type": "Other", "series": "point", "speed": 19.4, "damage": 0.5},
      {"type": "Other", "series": "point", "speed": 37.5, "damage": 0.7},
      {"type": "Other", "series": "point", "speed": 57.6, "damage": 0.6},
      {"type": "Other", "series": "point", "speed": 3, "damage": 0.4},
      {"type": "Other", "series": "point", "speed": 6, "damage": 0.3},
      {"type": "Other", "series": "point", "speed": 9, "damage": 0.2},
      {"type": "Other", "series": "point", "speed": 14, "damage": 0.3},
      {"type": "Other", "series": "point", "speed": 17, "damage": 0.2},
      {"type": "Other", "series": "point", "speed": 22, "damage": 0.3},
      {"type": "Other", "series": "point", "speed": 27, "damage": 0.4},
      {"type": "Other", "series": "point", "speed": 33, "damage": 0.3},
      {"type": "Other", "series": "point", "speed": 40, "damage": 0.3},
      {"type": "Other", "series": "point", "speed": 44, "damage": 0.2},
      {"type": "Other", "series": "point", "speed": 47, "damage": 0.3},
      {"type": "Other", "series": "point", "speed": 49, "damage": 0.5},
      {"type": "Other", "series": "point", "speed": 53, "damage": 0.8},
      {"type": "Other", "series": "point", "speed": 60, "damage": 0.2},
      {"type": "Other", "series": "point", "speed": 64, "damage": 0.2},
      {"type": "Other", "series": "smooth", "speed": 0, "damage": 0.5},
      {"type": "Other", "series": "smooth", "speed": 10, "damage": 0.35},
      {"type": "Other", "series": "smooth", "speed": 20, "damage": 0.3},
      {"type": "Other", "series": "smooth", "speed": 30, "damage": 0.3},
      {"type": "Other", "series": "smooth", "speed": 40, "damage": 0.3},
      {"type": "Other", "series": "smooth", "speed": 50, "damage": 0.35},
      {"type": "Other", "series": "smooth", "speed": 55, "damage": 0.4},
      {"type": "Other", "series": "smooth", "speed": 60, "damage": 0.3},
      {"type": "Other", "series": "smooth", "speed": 70.2, "damage": 0.15},

      {"type": "Other impacts", "series": "point", "speed": 0, "damage": 0.5},
      {"type": "Other impacts", "series": "point", "speed": 1, "damage": 0.2},
      {"type": "Other impacts", "series": "point", "speed": 2, "damage": 0.3},
      {"type": "Other impacts", "series": "point", "speed": 4.7, "damage": 1.2},
      {"type": "Other impacts", "series": "point", "speed": 6, "damage": 0.2},
      {"type": "Other impacts", "series": "point", "speed": 7, "damage": 0.6},
      {"type": "Other impacts", "series": "point", "speed": 9, "damage": 1.2},
      {"type": "Other impacts", "series": "point", "speed": 11, "damage": 0.5},
      {"type": "Other impacts", "series": "point", "speed": 13.2, "damage": 0.9},
      {"type": "Other impacts", "series": "point", "speed": 14, "damage": 0.2},
      {"type": "Other impacts", "series": "point", "speed": 16, "damage": 0.5},
      {"type": "Other impacts", "series": "point", "speed": 18, "damage": 0.4},
      {"type": "Other impacts", "series": "point", "speed": 20, "damage": 0.2},
      {"type": "Other impacts", "series": "point", "speed": 21.6, "damage": 1.1},
      {"type": "Other impacts", "series": "point", "speed": 24, "damage": 0.5},
      {"type": "Other impacts", "series": "point", "speed": 26, "damage": 0.2},
      {"type": "Other impacts", "series": "point", "speed": 27.9, "damage": 0.6},
      {"type": "Other impacts", "series": "point", "speed": 30, "damage": 0.3},
      {"type": "Other impacts", "series": "point", "speed": 33, "damage": 0.4},
      {"type": "Other impacts", "series": "point", "speed": 35, "damage": 0.1},
      {"type": "Other impacts", "series": "point", "speed": 36, "damage": 0.3},
      {"type": "Other impacts", "series": "point", "speed": 38.4, "damage": 0.7},
      {"type": "Other impacts", "series": "point", "speed": 41, "damage": 0.4},
      {"type": "Other impacts", "series": "point", "speed": 43, "damage": 0.1},
      {"type": "Other impacts", "series": "point", "speed": 44.2, "damage": 0.6},
      {"type": "Other impacts", "series": "point", "speed": 47, "damage": 0.3},
      {"type": "Other impacts", "series": "point", "speed": 50, "damage": 0.5},
      {"type": "Other impacts", "series": "point", "speed": 52, "damage": 0.2},
      {"type": "Other impacts", "series": "point", "speed": 55.3, "damage": 0.25},
      {"type": "Other impacts", "series": "smooth", "speed": 0, "damage": 0.3},
      {"type": "Other impacts", "series": "smooth", "speed": 10, "damage": 0.35},
      {"type": "Other impacts", "series": "smooth", "speed": 20, "damage": 0.3},
      {"type": "Other impacts", "series": "smooth", "speed": 30, "damage": 0.25},
      {"type": "Other impacts", "series": "smooth", "speed": 40, "damage": 0.15},
      {"type": "Other impacts", "series": "smooth", "speed": 50, "damage": 0.15},
      {"type": "Other impacts", "series": "smooth", "speed": 55.3, "damage": 0.1},

      {"type": "Raking Collision", "series": "point", "speed": 0.2, "damage": 0.3},
      {"type": "Raking Collision", "series": "point", "speed": 2, "damage": 0.2},
      {"type": "Raking Collision", "series": "point", "speed": 4.9, "damage": 0.5},
      {"type": "Raking Collision", "series": "point", "speed": 7.5, "damage": 0.6},
      {"type": "Raking Collision", "series": "point", "speed": 9, "damage": 0.4},
      {"type": "Raking Collision", "series": "point", "speed": 11.2, "damage": 1.1},
      {"type": "Raking Collision", "series": "point", "speed": 13, "damage": 0.3},
      {"type": "Raking Collision", "series": "point", "speed": 16, "damage": 0.2},
      {"type": "Raking Collision", "series": "point", "speed": 20.7, "damage": 0.5},
      {"type": "Raking Collision", "series": "point", "speed": 22, "damage": 0.3},
      {"type": "Raking Collision", "series": "point", "speed": 23.9, "damage": 0.5},
      {"type": "Raking Collision", "series": "point", "speed": 26, "damage": 0.2},
      {"type": "Raking Collision", "series": "point", "speed": 29.1, "damage": 0.15},
      {"type": "Raking Collision", "series": "point", "speed": 34.9, "damage": 0.1},
      {"type": "Raking Collision", "series": "point", "speed": 40.2, "damage": 0.05},
      {"type": "Raking Collision", "series": "point", "speed": 44, "damage": 0.1},
      {"type": "Raking Collision", "series": "point", "speed": 47, "damage": 0.15},
      {"type": "Raking Collision", "series": "point", "speed": 50, "damage": 0.3},
      {"type": "Raking Collision", "series": "point", "speed": 52.3, "damage": 0.1},
      {"type": "Raking Collision", "series": "point", "speed": 54.4, "damage": 1.8},
      {"type": "Raking Collision", "series": "point", "speed": 56, "damage": 0.3},
      {"type": "Raking Collision", "series": "point", "speed": 69.7, "damage": 0.4},
      {"type": "Raking Collision", "series": "point", "speed": 79.7, "damage": 0.05},
      {"type": "Raking Collision", "series": "point", "speed": 85.5, "damage": 0.05},
      {"type": "Raking Collision", "series": "smooth", "speed": 0.2, "damage": 0.35},
      {"type": "Raking Collision", "series": "smooth", "speed": 10, "damage": 0.35},
      {"type": "Raking Collision", "series": "smooth", "speed": 20, "damage": 0.3},
      {"type": "Raking Collision", "series": "smooth", "speed": 30, "damage": 0.2},
      {"type": "Raking Collision", "series": "smooth", "speed": 36, "damage": 0.15},
      {"type": "Raking Collision", "series": "smooth", "speed": 40, "damage": 0.2},
      {"type": "Raking Collision", "series": "smooth", "speed": 45, "damage": 0.35},
      {"type": "Raking Collision", "series": "smooth", "speed": 50, "damage": 0.7},
      {"type": "Raking Collision", "series": "smooth", "speed": 55, "damage": 1.0},
      {"type": "Raking Collision", "series": "smooth", "speed": 60, "damage": 1.15},
      {"type": "Raking Collision", "series": "smooth", "speed": 65, "damage": 0.9},
      {"type": "Raking Collision", "series": "smooth", "speed": 70, "damage": 0.4},
      {"type": "Raking Collision", "series": "smooth", "speed": 75, "damage": 0.2},
      {"type": "Raking Collision", "series": "smooth", "speed": 85.5, "damage": 0.2},

      {"type": "Rear end collision", "series": "point", "speed": 46, "damage": 11.85},
      {"type": "Rear end collision", "series": "point", "speed": 33.1, "damage": 4.25},
      {"type": "Rear end collision", "series": "point", "speed": 40, "damage": 4.25},
      {"type": "Rear end collision", "series": "point", "speed": 44.1, "damage": 2.5},
      {"type": "Rear end collision", "series": "point", "speed": 48.1, "damage": 1.4},
      {"type": "Rear end collision", "series": "point", "speed": 45.2, "damage": 0.05},
      {"type": "Rear end collision", "series": "point", "speed": 35.3, "damage": 0.3},
      {"type": "Rear end collision", "series": "point", "speed": 37.9, "damage": 0.05},
      {"type": "Rear end collision", "series": "point", "speed": 29.7, "damage": 1.9},
      {"type": "Rear end collision", "series": "point", "speed": 28.1, "damage": 0.3},
      {"type": "Rear end collision", "series": "point", "speed": 18.6, "damage": 2.1},
      {"type": "Rear end collision", "series": "point", "speed": 21.8, "damage": 2.1},
      {"type": "Rear end collision", "series": "point", "speed": 25.5, "damage": 2.0},
      {"type": "Rear end collision", "series": "point", "speed": 17.4, "damage": 1.1},
      {"type": "Rear end collision", "series": "point", "speed": 19.5, "damage": 1.5},
      {"type": "Rear end collision", "series": "point", "speed": 24, "damage": 1.3},
      {"type": "Rear end collision", "series": "point", "speed": 1, "damage": 0.1},
      {"type": "Rear end collision", "series": "point", "speed": 4, "damage": 0.1},
      {"type": "Rear end collision", "series": "point", "speed": 8, "damage": 0.1},
      {"type": "Rear end collision", "series": "point", "speed": 10, "damage": 0.2},
      {"type": "Rear end collision", "series": "point", "speed": 13.3, "damage": 0.4},
      {"type": "Rear end collision", "series": "point", "speed": 15, "damage": 0.3},
      {"type": "Rear end collision", "series": "point", "speed": 20, "damage": 0.4},
      {"type": "Rear end collision", "series": "point", "speed": 23, "damage": 0.5},
      {"type": "Rear end collision", "series": "point", "speed": 26, "damage": 0.3},
      {"type": "Rear end collision", "series": "smooth", "speed": 0.5, "damage": 0.1},
      {"type": "Rear end collision", "series": "smooth", "speed": 10, "damage": 0.25},
      {"type": "Rear end collision", "series": "smooth", "speed": 20, "damage": 0.5},
      {"type": "Rear end collision", "series": "smooth", "speed": 27, "damage": 0.9},
      {"type": "Rear end collision", "series": "smooth", "speed": 31, "damage": 1.35},
      {"type": "Rear end collision", "series": "smooth", "speed": 37, "damage": 1.4},
      {"type": "Rear end collision", "series": "smooth", "speed": 40, "damage": 1.9},
      {"type": "Rear end collision", "series": "smooth", "speed": 44, "damage": 3.6},
      {"type": "Rear end collision", "series": "smooth", "speed": 47.6, "damage": 4.35},

      {"type": "RR grade crossing", "series": "point", "speed": 23, "damage": 6.7},
      {"type": "RR grade crossing", "series": "point", "speed": 26.1, "damage": 4.6},
      {"type": "RR grade crossing", "series": "point", "speed": 24, "damage": 0.5},
      {"type": "RR grade crossing", "series": "point", "speed": 35.3, "damage": 0.3},
      {"type": "RR grade crossing", "series": "smooth", "speed": 22.9, "damage": 4.6},
      {"type": "RR grade crossing", "series": "smooth", "speed": 23.8, "damage": 4.0},
      {"type": "RR grade crossing", "series": "smooth", "speed": 25.3, "damage": 3.5},
      {"type": "RR grade crossing", "series": "smooth", "speed": 27, "damage": 3.3},
      {"type": "RR grade crossing", "series": "smooth", "speed": 29, "damage": 3.0},
      {"type": "RR grade crossing", "series": "smooth", "speed": 31, "damage": 2.3},
      {"type": "RR grade crossing", "series": "smooth", "speed": 33, "damage": 1.4},
      {"type": "RR grade crossing", "series": "smooth", "speed": 35.3, "damage": 0.3},

      {"type": "Side Collision", "series": "point", "speed": 47.4, "damage": 8.6},
      {"type": "Side Collision", "series": "point", "speed": 38.1, "damage": 4.4},
      {"type": "Side Collision", "series": "point", "speed": 38.4, "damage": 3.2},
      {"type": "Side Collision", "series": "point", "speed": 41.3, "damage": 3.0},
      {"type": "Side Collision", "series": "point", "speed": 40, "damage": 3.1},
      {"type": "Side Collision", "series": "point", "speed": 37.6, "damage": 1.4},
      {"type": "Side Collision", "series": "point", "speed": 44.2, "damage": 2.3},
      {"type": "Side Collision", "series": "point", "speed": 45.5, "damage": 2.3},
      {"type": "Side Collision", "series": "point", "speed": 47.4, "damage": 2.5},
      {"type": "Side Collision", "series": "point", "speed": 35, "damage": 0.45},
      {"type": "Side Collision", "series": "point", "speed": 36, "damage": 0.3},
      {"type": "Side Collision", "series": "point", "speed": 30.7, "damage": 0.2},
      {"type": "Side Collision", "series": "point", "speed": 31.7, "damage": 0.2},
      {"type": "Side Collision", "series": "point", "speed": 0, "damage": 0.3},
      {"type": "Side Collision", "series": "point", "speed": 2, "damage": 0.5},
      {"type": "Side Collision", "series": "point", "speed": 4.9, "damage": 0.8},
      {"type": "Side Collision", "series": "point", "speed": 6.5, "damage": 0.6},
      {"type": "Side Collision", "series": "point", "speed": 8.1, "damage": 0.85},
      {"type": "Side Collision", "series": "point", "speed": 10.2, "damage": 0.7},
      {"type": "Side Collision", "series": "point", "speed": 11.5, "damage": 0.5},
      {"type": "Side Collision", "series": "point", "speed": 12.8, "damage": 0.8},
      {"type": "Side Collision", "series": "point", "speed": 15, "damage": 0.4},
      {"type": "Side Collision", "series": "point", "speed": 17, "damage": 0.6},
      {"type": "Side Collision", "series": "point", "speed": 19, "damage": 0.3},
      {"type": "Side Collision", "series": "point", "speed": 20.5, "damage": 0.2},
      {"type": "Side Collision", "series": "point", "speed": 22.8, "damage": 0.5},
      {"type": "Side Collision", "series": "point", "speed": 24.9, "damage": 0.5},
      {"type": "Side Collision", "series": "smooth", "speed": 0, "damage": 0.15},
      {"type": "Side Collision", "series": "smooth", "speed": 10, "damage": 0.15},
      {"type": "Side Collision", "series": "smooth", "speed": 20, "damage": 0.1},
      {"type": "Side Collision", "series": "smooth", "speed": 26, "damage": 0.05},
      {"type": "Side Collision", "series": "smooth", "speed": 28.5, "damage": -0.3},
      {"type": "Side Collision", "series": "smooth", "speed": 31, "damage": 0},
      {"type": "Side Collision", "series": "smooth", "speed": 33.5, "damage": 0.7},
      {"type": "Side Collision", "series": "smooth", "speed": 36, "damage": 1.7},
      {"type": "Side Collision", "series": "smooth", "speed": 38.9, "damage": 3.3},
      {"type": "Side Collision", "series": "smooth", "speed": 42.3, "damage": 3.3},
      {"type": "Side Collision", "series": "smooth", "speed": 45, "damage": 3.9},
      {"type": "Side Collision", "series": "smooth", "speed": 47.4, "damage": 5.3},

      {"type": " ", "series": "blank"},
      {"type": "  ", "series": "blank"}
    ]
  },
  "hconcat": [
    {
      "width": 44,
      "height": 824,
      "view": {"stroke": null},
      "data": {"values": [{"label": "Total Damage ($)"}]},
      "mark": {"type": "text", "angle": 270, "fontSize": 25, "font": "DejaVu Sans", "baseline": "middle", "align": "center", "color": "#000000"},
      "encoding": {"text": {"field": "label"}}
    },
    {
      "vconcat": [
        {
          "width": 904,
          "height": 29,
          "view": {"fill": "#dbd9cb", "stroke": null},
          "data": {"values": [{"label": "TypeOfAccident"}]},
          "mark": {"type": "text", "fontSize": 18, "font": "DejaVu Sans", "fontWeight": "bold", "baseline": "middle", "align": "center", "color": "#000000"},
          "encoding": {"text": {"field": "label"}}
        },
        {
          "data": {"name": "acc"},
          "facet": {
            "field": "type",
            "type": "nominal",
            "sort": ["Broken train collision", "Derailment", "Explosion-detonation", "Fire/Violent Rupture", "Head on Collision", "Hwy-rail crossing", "Obstruction", "Other", "Other impacts", "Raking Collision", "Rear end collision", "RR grade crossing", "Side Collision", " ", "  "],
            "header": {"labels": false, "title": null, "labelFontSize": 0.1, "labelPadding": 0, "labelExpr": "''", "labelLineHeight": 0.1}
          },
          "columns": 3,
          "spacing": {"row": -5, "column": 5},
          "spec": {
            "width": 298,
            "height": 144,
            "layer": [
              {
                "transform": [{"filter": "datum.series == 'point'"}],
                "mark": {"type": "point", "filled": true, "color": "#000000", "size": 72, "opacity": 1},
                "encoding": {
                  "x": {"field": "speed", "type": "quantitative", "scale": {"domain": [-2.6, 91.4], "nice": false, "zero": false}, "axis": {"values": [10, 25, 40, 55, 70, 85], "tickCount": 12, "title": null, "labelOverlap": false}},
                  "y": {"field": "damage", "type": "quantitative", "scale": {"domain": [0, 21.33], "nice": false, "zero": false}, "axis": {"values": [0, 4, 8, 12, 16], "tickCount": 12, "title": null, "labelOverlap": false}}
                }
              },
              {
                "transform": [{"filter": "datum.series == 'smooth'"}],
                "mark": {"type": "line", "color": "#3a5dae", "strokeWidth": 2.5, "clip": true},
                "encoding": {
                  "x": {"field": "speed", "type": "quantitative"},
                  "y": {"field": "damage", "type": "quantitative"}
                }
              },
              {
                "transform": [{"aggregate": [{"op": "count", "as": "n"}], "groupby": ["type"]}],
                "layer": [
                  {
                    "mark": {"type": "rect", "fill": "#e6e5dd", "stroke": "#d6d4c6", "strokeWidth": 1},
                    "encoding": {
                      "x": {"datum": -2.6},
                      "x2": {"datum": 91.4},
                      "y": {"datum": 16.52},
                      "y2": {"datum": 21.33}
                    }
                  },
                  {
                    "mark": {"type": "text", "fontSize": 19.5, "font": "DejaVu Sans", "baseline": "middle", "align": "center", "color": "#000000"},
                    "encoding": {
                      "x": {"datum": 44.4},
                      "y": {"datum": 18.9},
                      "text": {"field": "type"}
                    }
                  },
                  {
                    "mark": {"type": "rule", "color": "#dcdcdc", "strokeWidth": 1.5},
                    "encoding": {
                      "x": {"datum": -2.6},
                      "y": {"datum": 0},
                      "y2": {"datum": 21.33}
                    }
                  }
                ]
              }
            ]
          }
        },
        {
          "width": 904,
          "height": 30,
          "view": {"stroke": null},
          "data": {"values": [{"label": "High Speed Limit (miles)"}]},
          "mark": {"type": "text", "fontSize": 25, "font": "DejaVu Sans", "baseline": "middle", "align": "center", "dy": 12, "color": "#000000"},
          "encoding": {"text": {"field": "label"}}
        }
      ],
      "spacing": 0
    }
  ],
  "spacing": 7
}
